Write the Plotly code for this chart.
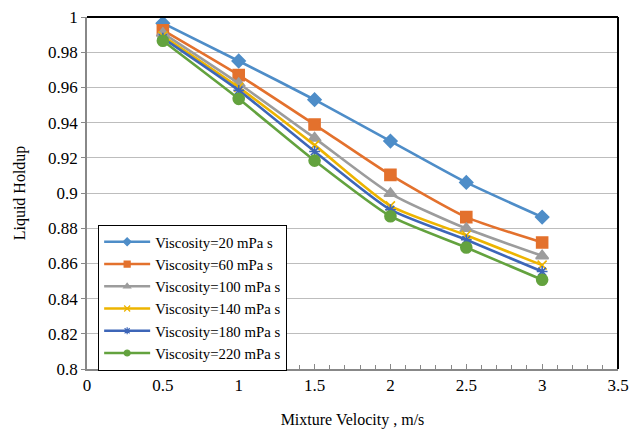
import plotly.graph_objects as go

# Mixture velocity (m/s)
velocity = [0.5, 1.0, 1.5, 2.0, 2.5, 3.0]

# Liquid holdup for each oil viscosity
holdup_20 = [0.9965, 0.9750, 0.9530, 0.9295, 0.9060, 0.8863]
holdup_60 = [0.9925, 0.9670, 0.9389, 0.9103, 0.8863, 0.8719]
holdup_100 = [0.9908, 0.9622, 0.9312, 0.8997, 0.8798, 0.8643]
holdup_140 = [0.9892, 0.9600, 0.9272, 0.8927, 0.8760, 0.8590]
holdup_180 = [0.9880, 0.9583, 0.9236, 0.8905, 0.8734, 0.8554]
holdup_220 = [0.9865, 0.9535, 0.9184, 0.8868, 0.8690, 0.8507]

labels = [
    "Viscosity=20 mPa s",
    "Viscosity=60 mPa s",
    "Viscosity=100 mPa s",
    "Viscosity=140 mPa s",
    "Viscosity=180 mPa s",
    "Viscosity=220 mPa s",
]
series = [holdup_20, holdup_60, holdup_100, holdup_140, holdup_180, holdup_220]
colors = ["#4E8DC8", "#E3712D", "#9C9C9C", "#EDB400", "#3D66B8", "#63A23E"]
symbols = ["diamond", "square", "triangle-up", "x-thin-open", "asterisk-open", "circle"]
sizes = [10, 11, 11, 9, 9, 11]
legend_sizes = [6, 6, 6, 6, 6, 6]

FONT = "Liberation Serif"

fig = go.Figure()
for name, ys, col, sym, sz in zip(labels, series, colors, symbols, sizes):
    fig.add_trace(go.Scatter(
        x=velocity, y=ys, name=name, mode="lines+markers", showlegend=False,
        line=dict(color=col, width=2.6, shape="spline", smoothing=0.6),
        marker=dict(symbol=sym, size=sz, color=col,
                    line=dict(color=col, width=1.6)),
    ))

# legend keys with smaller markers
for name, col, sym, lsz in zip(labels, colors, symbols, legend_sizes):
    fig.add_trace(go.Scatter(
        x=[None], y=[None], name=name, mode="lines+markers",
        line=dict(color=col, width=2.4),
        marker=dict(symbol=sym, size=lsz, color=col,
                    line=dict(color=col, width=1.2)),
    ))

fig.update_layout(
    width=643, height=433,
    margin=dict(l=87, r=25, t=17, b=64),
    paper_bgcolor="white", plot_bgcolor="white",
    font=dict(family=FONT, size=16, color="black"),
    showlegend=True,
    legend=dict(
        x=0.021, y=0.41, xanchor="left", yanchor="top",
        bgcolor="white", bordercolor="black", borderwidth=1,
        font=dict(family=FONT, size=14.8), tracegroupgap=0,
        itemwidth=46,
    ),
    xaxis=dict(
        range=[0, 3.5], dtick=0.5, showgrid=False, zeroline=False,
        showline=True, linecolor="#888888", linewidth=1.5, mirror=False,
        ticks="inside", ticklen=5, tickcolor="#888888",
        minor=dict(dtick=0.1, ticks="inside", ticklen=4, tickcolor="#888888"),
        title=dict(text="Mixture Velocity , m/s", font=dict(family=FONT, size=16), standoff=20),
        tickfont=dict(family=FONT, size=17), automargin=False,
    ),
    yaxis=dict(
        range=[0.8, 1.0], dtick=0.02, tickformat="~g",
        showgrid=True, gridcolor="#BDBDBD", gridwidth=1.2, zeroline=False,
        showline=True, linecolor="#888888", linewidth=1.5,
        ticks="outside", ticklen=4, tickcolor="#888888",
        title=dict(text="Liquid Holdup", font=dict(family=FONT, size=16), standoff=18),
        tickfont=dict(family=FONT, size=17), automargin=False,
    ),
)

# black frame on the top and right edges of the plotting area
fig.add_shape(type="line", xref="paper", yref="paper", x0=0, x1=1, y0=1, y1=1,
              line=dict(color="black", width=2))
fig.add_shape(type="line", xref="paper", yref="paper", x0=1, x1=1, y0=0, y1=1,
              line=dict(color="black", width=2))

fig.write_html("out.html")
